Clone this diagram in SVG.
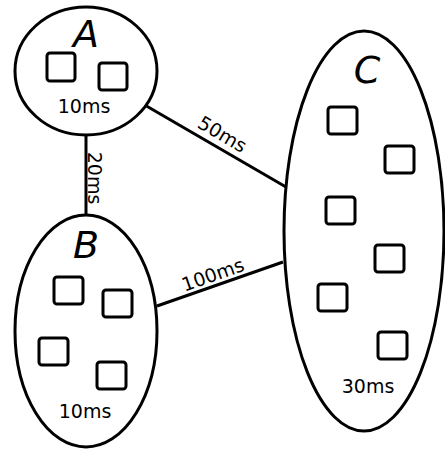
<svg xmlns="http://www.w3.org/2000/svg" width="445" height="449" viewBox="0 0 445 449">
  <style>
    .region { fill: #fff; stroke: #000; stroke-width: 3; }
    .proc { fill: none; stroke: #000; stroke-width: 3; }
    .link { stroke: #000; stroke-width: 3; fill: none; }
    .name { font-family: "DejaVu Sans", sans-serif; font-style: oblique; font-size: 38px; text-anchor: middle; fill: #000; }
    .lat { font-family: "DejaVu Sans", sans-serif; font-size: 19px; text-anchor: middle; fill: #000; }
  </style>
  <rect width="445" height="449" fill="#fff"/>
  <g id="connectors">
    <line class="link" x1="86" y1="136" x2="86" y2="215"/>
    <line class="link" x1="143" y1="104" x2="286" y2="187"/>
    <line class="link" x1="157" y1="306" x2="283" y2="262"/>
    <text class="lat" transform="translate(88,178) rotate(90)">20ms</text>
    <text class="lat" transform="translate(219,140) rotate(30.4)">50ms</text>
    <text class="lat" transform="translate(215,281) rotate(-19.4)">100ms</text>
  </g>
  <g id="A">
    <ellipse class="region" cx="86" cy="71" rx="71" ry="64"/>
    <text class="name" x="86" y="47">A</text>
    <rect class="proc" x="47" y="53" width="28" height="28" rx="3"/>
    <rect class="proc" x="99" y="63" width="28" height="27" rx="3"/>
    <text class="lat" x="84" y="113">10ms</text>
  </g>
  <g id="B">
    <ellipse class="region" cx="86" cy="331" rx="71" ry="116"/>
    <text class="name" x="86" y="258">B</text>
    <rect class="proc" x="54" y="277" width="29" height="27" rx="3"/>
    <rect class="proc" x="103" y="290" width="29" height="27" rx="3"/>
    <rect class="proc" x="39" y="338" width="29" height="27" rx="3"/>
    <rect class="proc" x="97" y="362" width="29" height="27" rx="3"/>
    <text class="lat" x="85" y="418">10ms</text>
  </g>
  <g id="C">
    <ellipse class="region" cx="364" cy="231" rx="80" ry="200"/>
    <text class="name" x="367" y="83">C</text>
    <rect class="proc" x="328" y="107" width="29" height="27" rx="3"/>
    <rect class="proc" x="385" y="146" width="29" height="27" rx="3"/>
    <rect class="proc" x="326" y="197" width="29" height="27" rx="3"/>
    <rect class="proc" x="375" y="245" width="29" height="27" rx="3"/>
    <rect class="proc" x="318" y="284" width="29" height="27" rx="3"/>
    <rect class="proc" x="378" y="332" width="29" height="27" rx="3"/>
    <text class="lat" x="368" y="393">30ms</text>
  </g>
</svg>
